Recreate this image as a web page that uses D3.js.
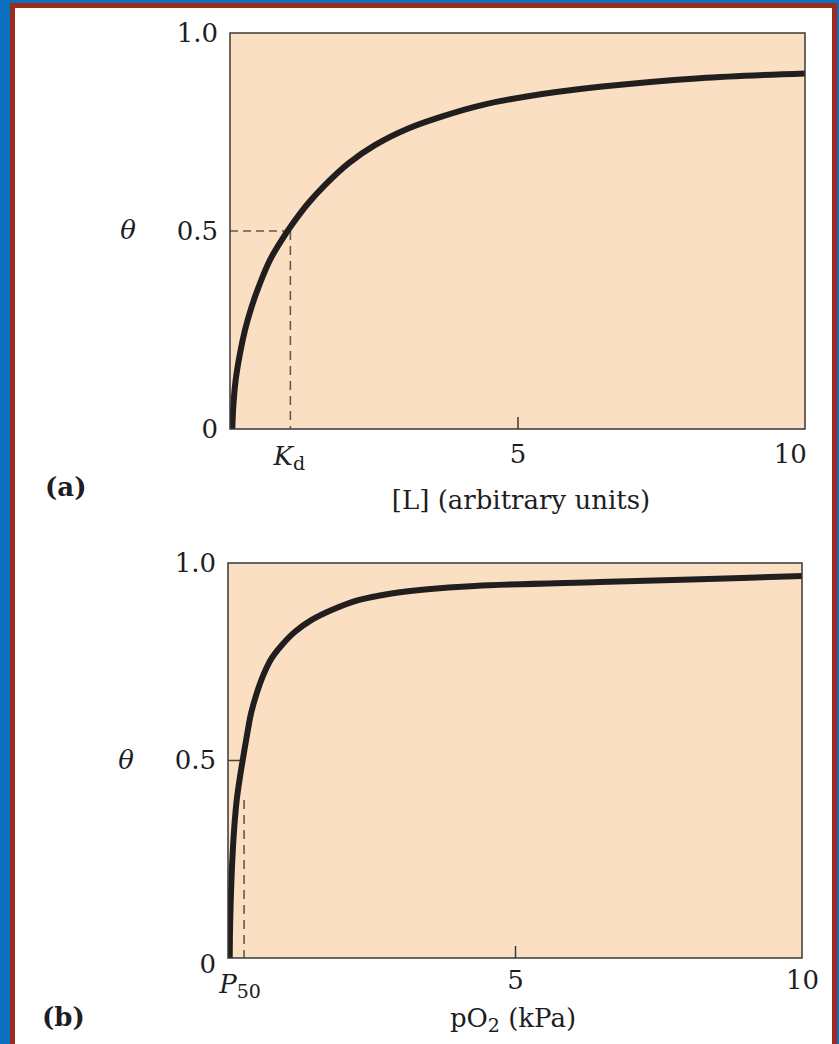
<!DOCTYPE html>
<html>
<head>
<meta charset="utf-8">
<script src="https://cdn.jsdelivr.net/npm/d3@7"></script>
<style>
  body { margin: 0; background: #ffffff; }
  svg { display: block; }
  text { font-family: "DejaVu Serif", serif; fill: #1d1d24; }
</style>
</head>
<body>
<script>
// Panel (a): hyperbolic ligand-binding curve, theta vs [L]
const ligandConc = [0.04, 0.057, 0.099, 0.174, 0.261, 0.377, 0.522, 0.696, 0.899, 1.073, 1.36, 1.65, 2.06, 2.52, 3.10, 3.68, 4.38, 5.13, 6.43, 8.17, 10.0];
const thetaBound = [0.00, 0.056, 0.124, 0.191, 0.25, 0.309, 0.368, 0.427, 0.477, 0.515, 0.570, 0.616, 0.671, 0.717, 0.759, 0.789, 0.818, 0.839, 0.864, 0.886, 0.898];
const kd = 1.05;

// Panel (b): oxygen binding curve, theta vs pO2 (kPa)
const pO2Values = [0.03, 0.036, 0.052, 0.075, 0.110, 0.152, 0.209, 0.267, 0.326, 0.401, 0.50, 0.615, 0.761, 0.936, 1.167, 1.458, 1.807, 2.27, 2.85, 3.43, 4.30, 6.48, 8.22, 10.0];
const thetaO2   = [0.00, 0.079, 0.164, 0.248, 0.332, 0.400, 0.459, 0.510, 0.560, 0.619, 0.670, 0.716, 0.759, 0.792, 0.826, 0.856, 0.881, 0.906, 0.923, 0.933, 0.942, 0.952, 0.959, 0.967];
const p50 = 0.28;
const p50DashTop = 0.40;
const p50TickEnd = 0.24;

// Axis ticks
const yTickValues = [0, 0.5, 1.0];
const yTickLabels = ["0", "0.5", "1.0"];
const xTickValues = [5, 10];
const xTickLabels = ["5", "10"];
const xInnerTicks = [5];

const W = 839, H = 1044;
const FS = 26;

const svg = d3.select("body").append("svg")
  .attr("width", W).attr("height", H);

// Page border: blue outer band, red inner rule, white page
svg.append("rect").attr("x", 0).attr("y", 0).attr("width", W).attr("height", H).attr("fill", "#0a6fbf");
svg.append("rect").attr("x", 10).attr("y", 3).attr("width", 827).attr("height", H + 20).attr("fill", "#9e2a1f");
svg.append("rect").attr("x", 15).attr("y", 8).attr("width", 817).attr("height", H + 20).attr("fill", "#ffffff");

function drawPanel(cfg) {
  const x = d3.scaleLinear().domain([0, 10]).range([cfg.left, cfg.right]);
  const y = d3.scaleLinear().domain([0, 1]).range([cfg.bottom, cfg.top]);
  const g = svg.append("g");

  // Plot background
  g.append("rect")
    .attr("x", cfg.left).attr("y", cfg.top)
    .attr("width", cfg.right - cfg.left).attr("height", cfg.bottom - cfg.top)
    .attr("fill", "#fbdfc2");

  const clipId = "clip-" + cfg.id;
  svg.append("clipPath").attr("id", clipId).append("rect")
    .attr("x", cfg.left).attr("y", cfg.top)
    .attr("width", cfg.right - cfg.left).attr("height", cfg.bottom - cfg.top);

  // Guide lines at half saturation
  cfg.guides(g, x, y);

  // Binding curve
  const pts = cfg.xs.map((v, i) => [v, cfg.ys[i]]);
  const line = d3.line().x(d => x(d[0])).y(d => y(d[1])).curve(d3.curveCatmullRom.alpha(0.5));
  g.append("path")
    .attr("clip-path", `url(#${clipId})`)
    .attr("d", line(pts))
    .attr("fill", "none")
    .attr("stroke", "#221e1f")
    .attr("stroke-width", 6)
    .attr("stroke-linecap", "butt")
    .attr("stroke-linejoin", "round");

  // Plot frame
  g.append("rect")
    .attr("x", cfg.left).attr("y", cfg.top)
    .attr("width", cfg.right - cfg.left).attr("height", cfg.bottom - cfg.top)
    .attr("fill", "none").attr("stroke", "#3b3836").attr("stroke-width", 1.5);

  // Inward tick at x = 5
  const tickAxis = g.append("g")
    .attr("transform", `translate(0,${cfg.bottom})`)
    .call(d3.axisTop(x).tickValues(xInnerTicks).tickSize(12).tickFormat(""));
  tickAxis.select(".domain").remove();
  tickAxis.selectAll("line").attr("stroke", "#3b3836").attr("stroke-width", 1.5);

  // Y axis labels
  const yAxis = g.append("g")
    .attr("transform", `translate(${cfg.left},0)`)
    .call(d3.axisLeft(y).tickValues(yTickValues)
      .tickFormat((d, i) => yTickLabels[i]).tickSize(0).tickPadding(12));
  yAxis.select(".domain").remove();
  yAxis.attr("font-family", null).attr("font-size", null);
  yAxis.selectAll("text").style("font-size", FS + "px")
    .attr("dy", (d) => d === 0 ? cfg.zeroDy : "0.32em");

  // X axis labels
  const xAxis = g.append("g")
    .attr("transform", `translate(0,${cfg.bottom})`)
    .call(d3.axisBottom(x).tickValues(xTickValues)
      .tickFormat((d, i) => xTickLabels[i]).tickSize(0).tickPadding(cfg.xPad));
  xAxis.select(".domain").remove();
  xAxis.attr("font-family", null).attr("font-size", null);
  xAxis.selectAll("text").style("font-size", FS + "px");
  if (cfg.lastAnchorEnd) {
    xAxis.selectAll("text").filter(d => d === 10).attr("text-anchor", "end").attr("dx", "0.05em");
  }

  // Theta label
  g.append("text")
    .attr("x", cfg.thetaX).attr("y", y(0.5) + 8)
    .attr("text-anchor", "middle")
    .style("font-size", FS + "px").style("font-style", "italic")
    .text("θ");

  // Special x marker label (Kd or P50)
  const mk = g.append("text")
    .attr("x", x(cfg.markerValue) + cfg.markerDx)
    .attr("y", cfg.markerBaseline)
    .attr("text-anchor", "middle")
    .style("font-size", FS + "px");
  mk.append("tspan").style("font-style", "italic").text(cfg.markerMain);
  mk.append("tspan").attr("dy", 5).style("font-size", "19px").text(cfg.markerSub);

  // Axis title
  const title = g.append("text")
    .attr("x", cfg.titleX).attr("y", cfg.titleBaseline)
    .attr("text-anchor", "middle")
    .style("font-size", FS + "px");
  cfg.title(title);

  // Panel letter
  g.append("text")
    .attr("x", cfg.letterX).attr("y", cfg.letterBaseline)
    .style("font-size", FS + "px").style("font-weight", "bold")
    .text(cfg.letter);
}

// (a)
drawPanel({
  id: "a", left: 230, right: 805, top: 33, bottom: 429,
  xs: ligandConc, ys: thetaBound,
  xPad: 16, zeroDy: "0.32em", lastAnchorEnd: true,
  thetaX: 128,
  markerValue: kd, markerDx: -1, markerBaseline: 465, markerMain: "K", markerSub: "d",
  titleX: 521, titleBaseline: 509,
  title: t => t.text("[L] (arbitrary units)"),
  letter: "(a)", letterX: 45, letterBaseline: 496,
  guides: (g, x, y) => {
    g.append("line")
      .attr("x1", x(0)).attr("x2", x(kd))
      .attr("y1", y(0.5)).attr("y2", y(0.5))
      .attr("stroke", "#625950").attr("stroke-width", 1.6)
      .attr("stroke-dasharray", "8,5");
    g.append("line")
      .attr("x1", x(kd)).attr("x2", x(kd))
      .attr("y1", y(0.5)).attr("y2", y(0))
      .attr("stroke", "#625950").attr("stroke-width", 1.6)
      .attr("stroke-dasharray", "9,6");
  }
});

// (b)
drawPanel({
  id: "b", left: 228, right: 802, top: 563, bottom: 958,
  xs: pO2Values, ys: thetaO2,
  xPad: 13, zeroDy: "0.55em", lastAnchorEnd: false,
  thetaX: 126,
  markerValue: p50, markerDx: -4, markerBaseline: 993, markerMain: "P", markerSub: "50",
  titleX: 513, titleBaseline: 1027,
  title: t => {
    t.append("tspan").text("pO");
    t.append("tspan").attr("dy", 5).style("font-size", "19px").text("2");
    t.append("tspan").attr("dy", -5).text(" (kPa)");
  },
  letter: "(b)", letterX: 42, letterBaseline: 1026,
  guides: (g, x, y) => {
    g.append("line")
      .attr("x1", x(0)).attr("x2", x(p50TickEnd))
      .attr("y1", y(0.5)).attr("y2", y(0.5))
      .attr("stroke", "#4a433d").attr("stroke-width", 1.5);
    g.append("line")
      .attr("x1", x(p50)).attr("x2", x(p50))
      .attr("y1", y(p50DashTop)).attr("y2", y(0))
      .attr("stroke", "#625950").attr("stroke-width", 1.6)
      .attr("stroke-dasharray", "9,6");
  }
});
</script>
</body>
</html>
